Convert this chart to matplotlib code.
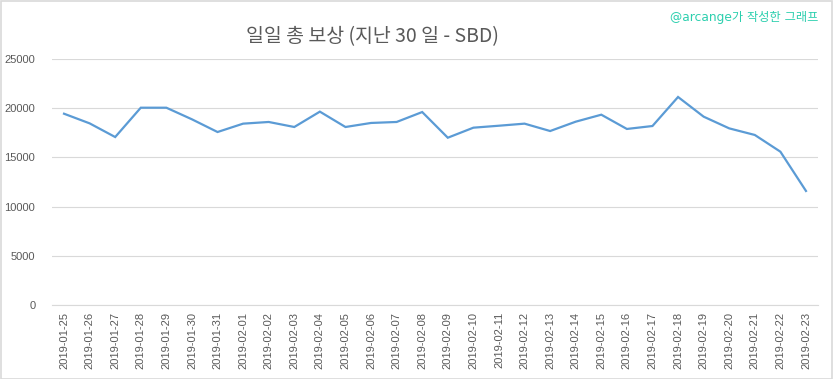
import matplotlib
matplotlib.use("Agg")
import matplotlib.pyplot as plt
from matplotlib.patches import Rectangle

dates = ["2019-01-25", "2019-01-26", "2019-01-27", "2019-01-28", "2019-01-29", "2019-01-30",
         "2019-01-31", "2019-02-01", "2019-02-02", "2019-02-03", "2019-02-04", "2019-02-05",
         "2019-02-06", "2019-02-07", "2019-02-08", "2019-02-09", "2019-02-10", "2019-02-11",
         "2019-02-12", "2019-02-13", "2019-02-14", "2019-02-15", "2019-02-16", "2019-02-17",
         "2019-02-18", "2019-02-19", "2019-02-20", "2019-02-21", "2019-02-22", "2019-02-23"]
rewards = [19440, 18460, 17070, 20050, 20050, 18870, 17580, 18430, 18600, 18090,
           19650, 18090, 18500, 18600, 19610, 17000, 18020, 18220, 18430, 17680,
           18630, 19340, 17890, 18190, 21140, 19140, 17950, 17280, 15580, 11590]
yticks = [0, 5000, 10000, 15000, 20000, 25000]

title = "일일 총 보상 (지난 30 일 - SBD)"
watermark = "@arcange가 작성한 그래프"

plt.rcParams['font.family'] = ['Liberation Sans', 'Noto Sans CJK KR', 'DejaVu Sans']

fig = plt.figure(figsize=(8.33, 3.79), dpi=100)
ax = fig.add_axes([52/833, 1-305/379, (818-52)/833, (305-59)/379])

x = list(range(len(dates)))
ax.plot(x, rewards, color="#5b9bd5", linewidth=1.6, solid_joinstyle="miter")
ax.set_xlim(-0.47, len(dates) - 0.53)
ax.set_ylim(0, 25000)
ax.set_yticks(yticks)
ax.set_yticklabels([str(v) for v in yticks])
ax.set_xticks(x)
ax.set_xticklabels(dates, rotation=90)
ax.grid(axis="y", color="#d9d9d9", linewidth=0.8)
ax.set_axisbelow(True)
for s in ["top", "right", "left"]:
    ax.spines[s].set_visible(False)
ax.spines["bottom"].set_color("#d9d9d9")
ax.tick_params(axis="both", length=0, colors="#595959", labelsize=8)
ax.tick_params(axis="x", pad=5)
ax.tick_params(axis="y", pad=12)

fig.text(372/833, 1-37/379, title, ha="center", va="center", fontsize=14,
         color="#595959", family=['Noto Sans CJK KR', 'DejaVu Sans'])
fig.text(818/833, 1-17/379, watermark, ha="right", va="center", fontsize=8.8,
         color="#2ccfae", family=['DejaVu Sans', 'Noto Sans CJK KR'])

fig.patches.append(Rectangle((0.5/833, 0.5/379), 1-1.5/833, 1-1.5/379, transform=fig.transFigure,
                             fill=False, edgecolor="#d9d9d9", linewidth=1.2))

fig.savefig("out.png", dpi=100)
